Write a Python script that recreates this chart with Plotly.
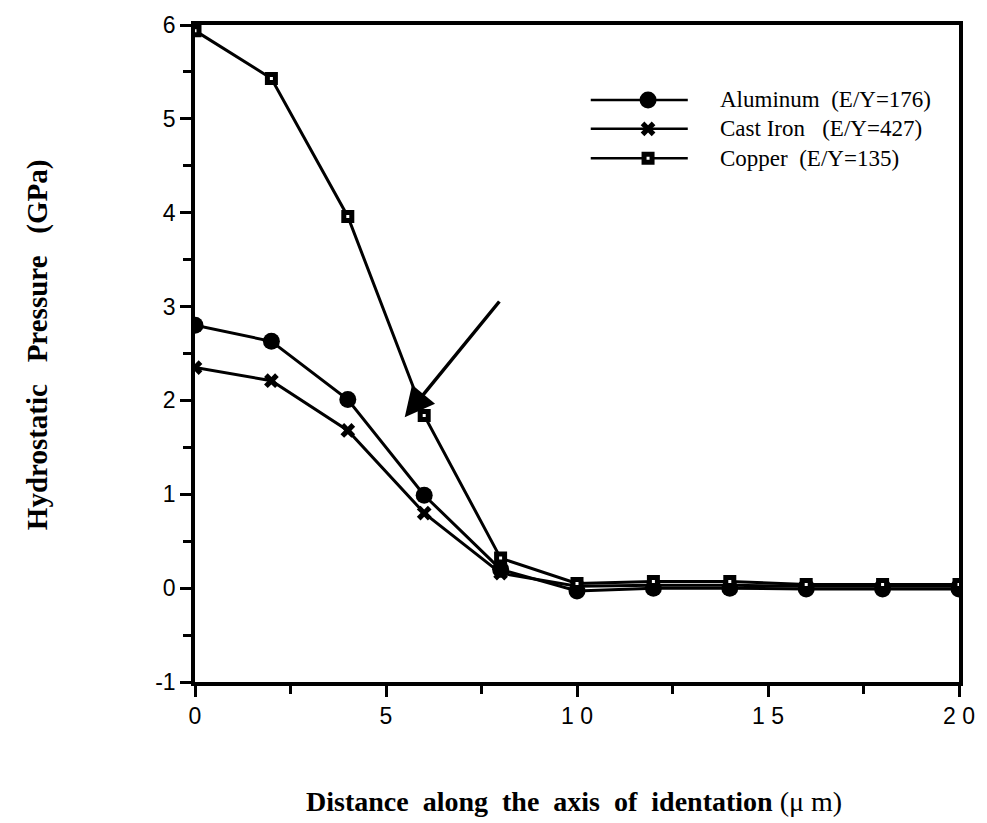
import plotly.graph_objects as go

x_um = [0, 2, 4, 6, 8, 10, 12, 14, 16, 18, 20]
aluminum = [2.80, 2.63, 2.01, 0.99, 0.20, -0.03, 0.00, 0.00, -0.01, -0.01, -0.01]
cast_iron = [2.35, 2.21, 1.68, 0.80, 0.16, 0.02, 0.03, 0.03, 0.02, 0.02, 0.02]
copper = [5.94, 5.43, 3.96, 1.84, 0.32, 0.05, 0.07, 0.07, 0.04, 0.04, 0.04]

legend_names = ["Aluminum  (E/Y=176)", "Cast Iron   (E/Y=427)", "Copper  (E/Y=135)"]

x_tickvals = [0, 5, 10, 15, 20]
x_ticktext = ["0", "5", "1 0", "1 5", "2 0"]
y_tickvals = [-1, 0, 1, 2, 3, 4, 5, 6]
y_ticktext = ["-1", "0", "1", "2", "3", "4", "5", "6"]

# arrow (tip and tail in data coords)
arrow_tip = (5.49, 1.82)
arrow_tail = (8.0, 3.07)

styles = [
    dict(symbol="circle", size=17, color="black", line=dict(width=0)),
    dict(symbol="x", size=13, color="black", line=dict(width=0)),
    dict(symbol="square", size=8, color="white", line=dict(width=5, color="black")),
]
series = [aluminum, cast_iron, copper]

fig = go.Figure()
for ys, st, nm in zip(series, styles, legend_names):
    fig.add_trace(go.Scatter(x=x_um, y=ys, mode="lines+markers", name=nm,
                             line=dict(color="black", width=3), marker=st,
                             showlegend=False))

# manual legend on overlay axes (paper-like 0..1)
leg_y = [0.886, 0.842, 0.797]
for ly, st, nm in zip(leg_y, styles, legend_names):
    fig.add_trace(go.Scatter(x=[0.518, 0.593, 0.645], y=[ly, ly, ly], mode="lines",
                             line=dict(color="black", width=2.5), xaxis="x2", yaxis="y2",
                             showlegend=False, hoverinfo="skip"))
    fig.add_trace(go.Scatter(x=[0.593], y=[ly], mode="markers", marker=st,
                             xaxis="x2", yaxis="y2", showlegend=False, hoverinfo="skip"))
    fig.add_annotation(x=0.684, y=ly, xref="paper", yref="paper", text=nm,
                       showarrow=False, xanchor="left", yanchor="middle",
                       font=dict(family="Liberation Serif", size=23, color="black"))

fig.add_annotation(x=arrow_tip[0], y=arrow_tip[1], ax=arrow_tail[0], ay=arrow_tail[1],
                   xref="x", yref="y", axref="x", ayref="y", text="", showarrow=True,
                   arrowhead=2, arrowsize=1.7, arrowwidth=3.5, arrowcolor="black")

fig.add_annotation(x=0.496, y=-0.182, xref="paper", yref="paper",
                   text="<b>Distance  along  the  axis  of  identation</b> (\u03bc m)",
                   showarrow=False, xanchor="center", yanchor="middle",
                   font=dict(family="Liberation Serif", size=28, color="black"))
fig.add_annotation(x=-0.207, y=0.514, xref="paper", yref="paper",
                   text="<b>Hydrostatic   Pressure   (GPa)</b>", textangle=-90,
                   showarrow=False, xanchor="center", yanchor="middle",
                   font=dict(family="Liberation Serif", size=29, color="black"))

fig.update_layout(
    width=987, height=823,
    margin=dict(l=195, r=20, t=17, b=141),
    paper_bgcolor="white", plot_bgcolor="white",
    font=dict(family="Liberation Sans", size=23, color="black"),
    xaxis=dict(range=[0, 20], tickvals=x_tickvals, ticktext=x_ticktext,
               ticks="outside", ticklen=11, tickwidth=3, tickcolor="black",
               minor=dict(tickvals=[2.5, 7.5, 12.5, 17.5], ticks="outside", ticklen=8, tickwidth=3, tickcolor="black"),
               showline=True, linewidth=3.5, linecolor="black", mirror=True,
               showgrid=False, zeroline=False),
    yaxis=dict(range=[-1, 6], tickvals=y_tickvals, ticktext=y_ticktext,
               ticks="outside", ticklen=11, tickwidth=3, tickcolor="black",
               minor=dict(dtick=0.5, ticks="outside", ticklen=8, tickwidth=3, tickcolor="black"),
               showline=True, linewidth=3.5, linecolor="black", mirror=True,
               showgrid=False, zeroline=False),
    xaxis2=dict(range=[0, 1], overlaying="x", visible=False, fixedrange=True),
    yaxis2=dict(range=[0, 1], overlaying="y", visible=False, fixedrange=True),
)

fig.write_html("out.html")
